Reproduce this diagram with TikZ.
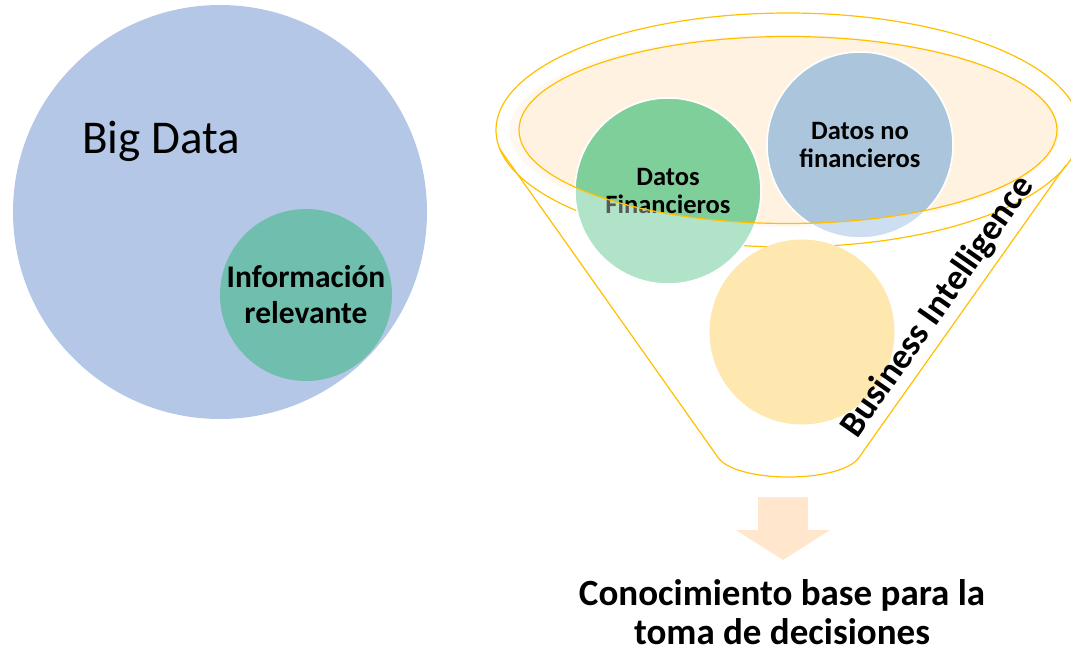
\documentclass[tikz,border=0pt]{standalone}
\usepackage{fontspec}
\setmainfont{Carlito}
\definecolor{bigblue}{RGB}{180,199,231}
\definecolor{infogreen}{RGB}{112,191,174}
\definecolor{funnelline}{RGB}{255,192,0}
\definecolor{ellfill}{RGB}{255,242,225}
\definecolor{ellglow}{RGB}{255,248,240}
\definecolor{finlight}{RGB}{176,227,200}
\definecolor{findark}{RGB}{127,207,155}
\definecolor{nofinlight}{RGB}{204,222,240}
\definecolor{nofindark}{RGB}{171,198,220}
\definecolor{goldcircle}{RGB}{255,232,175}
\definecolor{arrowfill}{RGB}{255,230,204}
\begin{document}
\begin{tikzpicture}[x=1pt, y=-1pt,
    bubble/.style={circle, inner sep=0pt, minimum size=186pt, align=center, draw=white, line width=1.5pt},
    bubbletext/.style={font=\bfseries\fontsize{26.5}{28}\selectfont},
    funnel/.style={draw=funnelline, line width=1.2pt}]
    \useasboundingbox (0,0) rectangle (1071,649);

    % big data
    \node[circle, fill=bigblue, minimum size=414pt, inner sep=0pt] (big) at (220,212) {};
    \node[anchor=base west, inner sep=0pt, font=\fontsize{47}{56}\selectfont] (bigtext) at (82,153) {Big Data};
    \node[circle, fill=infogreen, minimum size=172pt, inner sep=0pt, align=center,
          font=\bfseries\fontsize{31.5}{36}\selectfont] (info) at (306,295) {Información\\relevante};

    % funnel
    \draw[funnel] (788,130) ellipse [x radius=292pt, y radius=117pt];
    \draw[funnel] (499,148) -- (717,456) .. controls (733,484) and (844,484) .. (860,456) -- (1066,165);
    \fill[ellglow] (784,131) ellipse [x radius=275pt, y radius=96pt];
    \fill[ellfill] (788,130) ellipse [x radius=269pt, y radius=93.5pt];

    \node[bubble, fill=finlight, bubbletext, text=black!65] (fin) at (668,191) {Datos\\Financieros};
    \node[bubble, fill=nofinlight, bubbletext] (nofin) at (860,145) {Datos no\\financieros};
    \begin{scope}
        \clip (788,130) ellipse [x radius=269pt, y radius=93.5pt];
        \node[bubble, fill=findark, bubbletext] (findark) at (fin) {Datos\\Financieros};
        \node[bubble, fill=nofindark, bubbletext] (nofindark) at (nofin) {Datos no\\financieros};
    \end{scope}
    \node[circle, fill=goldcircle, minimum size=185pt, inner sep=0pt] (gold) at (802,332) {};
    \draw[funnel] (788,130) ellipse [x radius=269pt, y radius=93.5pt];

    \node[rotate=55, inner sep=0pt, font=\bfseries\fontsize{36}{40}\selectfont] (bi) at (938,307) {Business Intelligence};

    % result
    \fill[arrowfill] (758,497) -- (808,497) -- (808,530) -- (830,530) -- (783,560) -- (736,530) -- (758,530) -- cycle;
    \node[align=center, inner sep=0pt, font=\bfseries\fontsize{37}{38.5}\selectfont] (result) at (782,612)
        {Conocimiento base para la\\toma de decisiones};
\end{tikzpicture}
\end{document}
